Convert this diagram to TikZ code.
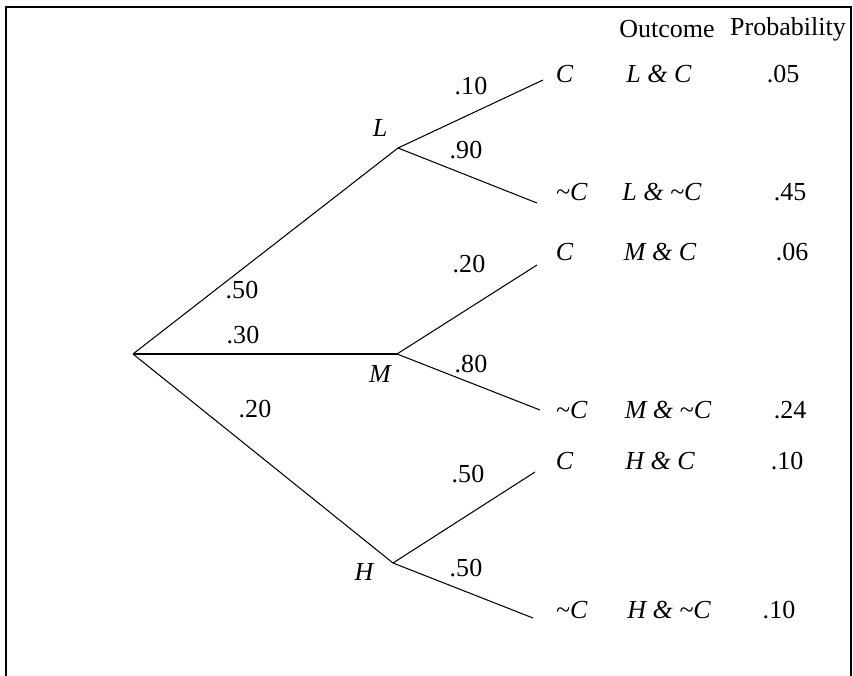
\documentclass[tikz,border=0pt]{standalone}
\usepackage{fontspec}
\setmainfont{Liberation Serif}

\begin{document}
\begin{tikzpicture}[font=\fontsize{18.5}{22}\selectfont,
    branch/.style={line width=0.75pt},
    event/.style={font=\fontsize{18.5}{22}\selectfont\itshape}]
  \useasboundingbox (-3.325,-8.025) rectangle (18.0,8.85);
  % frame, open at the bottom
  \draw[line width=1.1pt] (-3.175,-8.2) -- (-3.175,8.675) -- (17.95,8.675) -- (17.95,-8.2);

  % branch points
  \coordinate (root) at (0,0);
  \coordinate (l) at (6.625,5.15);
  \coordinate (m) at (6.6,0);
  \coordinate (h) at (6.5,-5.225);
  % leaf ends
  \coordinate (lc) at (10.25,6.85);
  \coordinate (lnc) at (10.1,3.775);
  \coordinate (mc) at (10.1,2.225);
  \coordinate (mnc) at (10.175,-1.4);
  \coordinate (hc) at (10.05,-2.95);
  \coordinate (hnc) at (10.0,-6.6);

  % branches
  \foreach \a/\b in {root/l,root/m,root/h,l/lc,l/lnc,m/mc,m/mnc,h/hc,h/hnc}{
    \draw[branch] (\a) -- (\b);
  }

  % node labels
  \node[event] (lab-l) at (6.175,5.65) {L};
  \node[event] (lab-m) at (6.175,-0.5) {M};
  \node[event] (lab-h) at (5.775,-5.45) {H};

  % branch probabilities
  \node (p-l) at (2.725,1.6) {.50};
  \node (p-m) at (2.75,0.475) {.30};
  \node (p-h) at (3.05,-1.375) {.20};
  \node (p-lc) at (8.45,6.7) {.10};
  \node (p-lnc) at (8.325,5.1) {.90};
  \node (p-mc) at (8.4,2.25) {.20};
  \node (p-mnc) at (8.45,-0.25) {.80};
  \node (p-hc) at (8.375,-3.0) {.50};
  \node (p-hnc) at (8.325,-5.35) {.50};

  % headers
  \node (head-out) at (13.35,8.125) {Outcome};
  \node (head-prob) at (16.375,8.125) {Probability};

  % leaves, outcomes and their probabilities
  \foreach \n/\y/\leaf/\xa/\out/\xb/\prob in {
      lc/7.0/C/13.15/{L \& C}/16.25/.05,
      lnc/4.05/\textasciitilde C/13.225/{L \& \textasciitilde C}/16.425/.45,
      mc/2.55/C/13.175/{M \& C}/16.475/.06,
      mnc/-1.4/\textasciitilde C/13.375/{M \& \textasciitilde C}/16.425/.24,
      hc/-2.675/C/13.175/{H \& C}/16.35/.10,
      hnc/-6.4/\textasciitilde C/13.4/{H \& \textasciitilde C}/16.15/.10}{
    \node[event, anchor=west] (leaf-\n) at (10.45,\y) {\leaf};
    \node[event] (out-\n) at (\xa,\y) {\out};
    \node (prob-\n) at (\xb,\y) {\prob};
  }
\end{tikzpicture}
\end{document}
